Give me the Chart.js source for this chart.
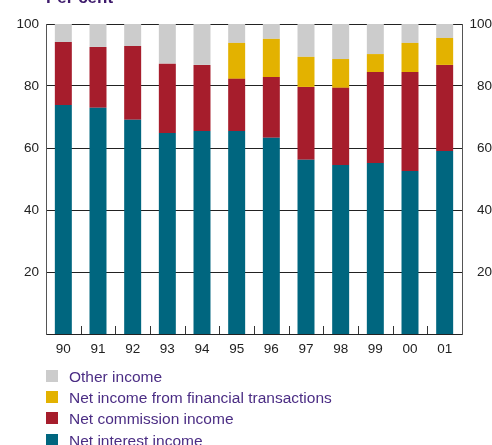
<!DOCTYPE html>
<html>
<head>
<meta charset="utf-8">
<script src="https://cdn.jsdelivr.net/npm/chart.js@4.4.1/dist/chart.umd.min.js"></script>
<style>
  html, body { margin: 0; padding: 0; background: #ffffff; }
  #wrap { position: relative; width: 492px; height: 445px; }
</style>
</head>
<body>
<div id="wrap"><canvas id="c" width="492" height="445"></canvas></div>
<script>
// Income composition of banks, per cent of total income
const years = ['90', '91', '92', '93', '94', '95', '96', '97', '98', '99', '00', '01'];
const netInterest   = [73.9, 73.0, 69.1, 64.8, 65.5, 65.5, 63.3, 56.2, 54.5, 55.2, 52.6, 59.0];
const netCommission = [20.3, 19.6, 23.8, 22.4, 21.3, 16.8, 19.6, 23.5, 24.9, 29.3, 31.9, 27.8];
const netFinancial  = [0, 0, 0, 0, 0, 11.6, 12.3, 9.7, 9.3, 5.8, 9.4, 8.7];
const otherIncome   = [5.8, 7.4, 7.1, 12.8, 13.2, 6.1, 4.8, 10.6, 11.3, 9.7, 6.1, 4.5];
const yTicks = [20, 40, 60, 80, 100];

const FONT = "'Liberation Sans', Arial, sans-serif";
const LEGEND_COLOR = '#4b2d84';

// Inward tick marks between the year categories on the bottom axis
const innerTicks = {
  id: 'innerTicks',
  afterDatasetsDraw(chart) {
    const x = chart.scales.x, area = chart.chartArea, ctx = chart.ctx;
    ctx.save();
    ctx.strokeStyle = '#333333';
    ctx.lineWidth = 1;
    for (let i = 1; i < years.length; i++) {
      const px = Math.round((x.getPixelForValue(i - 1) + x.getPixelForValue(i)) / 2) + 0.5;
      ctx.beginPath();
      ctx.moveTo(px, area.bottom);
      ctx.lineTo(px, area.bottom - 8);
      ctx.stroke();
    }
    ctx.restore();
  }
};

// Heading and the vertical legend below the axis
const headingAndLegend = {
  id: 'headingAndLegend',
  afterDraw(chart) {
    const ctx = chart.ctx;
    ctx.save();
    ctx.fillStyle = '#3d1a6b';
    ctx.font = 'bold 17px ' + FONT;
    ctx.textAlign = 'left';
    ctx.textBaseline = 'alphabetic';
    ctx.fillText('Per cent', 46, 3);

    const sets = chart.data.datasets.slice().reverse();
    ctx.font = '15.5px ' + FONT;
    sets.forEach((ds, row) => {
      const top = 370 + row * 21.2;
      ctx.fillStyle = ds.backgroundColor;
      ctx.fillRect(46, Math.round(top), 12, 12);
      ctx.fillStyle = LEGEND_COLOR;
      ctx.fillText(ds.label, 69, top + 12);
    });
    ctx.restore();
  }
};

new Chart(document.getElementById('c'), {
  type: 'bar',
  data: {
    labels: years,
    datasets: [
      { label: 'Net interest income', data: netInterest, backgroundColor: '#00667f' },
      { label: 'Net commission income', data: netCommission, backgroundColor: '#a61d2c' },
      { label: 'Net income from financial transactions', data: netFinancial, backgroundColor: '#e3b200' },
      { label: 'Other income', data: otherIncome, backgroundColor: '#cccccc' }
    ]
  },
  options: {
    responsive: false,
    animation: false,
    events: [],
    layout: { padding: { top: 24, left: 0, right: 0, bottom: 0 } },
    datasets: { bar: { barPercentage: 0.49, categoryPercentage: 1, borderWidth: 0 } },
    plugins: { legend: { display: false }, tooltip: { enabled: false } },
    scales: {
      x: {
        stacked: true,
        grid: { display: false, drawTicks: false },
        border: { display: true, color: '#222222', width: 1 },
        ticks: { color: '#222222', font: { family: FONT, size: 13.5 }, padding: 7, maxRotation: 0 },
        afterFit(s) { s.height = 111; }
      },
      y: {
        stacked: true,
        position: 'left',
        min: 0, max: 100,
        afterBuildTicks(s) { s.ticks = yTicks.map(v => ({ value: v })); },
        grid: { color: '#222222', lineWidth: 1, drawTicks: false },
        border: { display: true, color: '#555555', width: 1 },
        ticks: { color: '#222222', font: { family: FONT, size: 13.5 }, padding: 7 },
        afterFit(s) { s.width = 46; }
      },
      y2: {
        position: 'right',
        min: 0, max: 100,
        afterBuildTicks(s) { s.ticks = yTicks.map(v => ({ value: v })); },
        grid: { drawOnChartArea: false, drawTicks: false },
        border: { display: true, color: '#555555', width: 1 },
        ticks: { color: '#222222', font: { family: FONT, size: 13.5 }, padding: 4, crossAlign: 'far' },
        afterFit(s) { s.width = 30; }
      }
    }
  },
  plugins: [innerTicks, headingAndLegend]
});
</script>
</body>
</html>
